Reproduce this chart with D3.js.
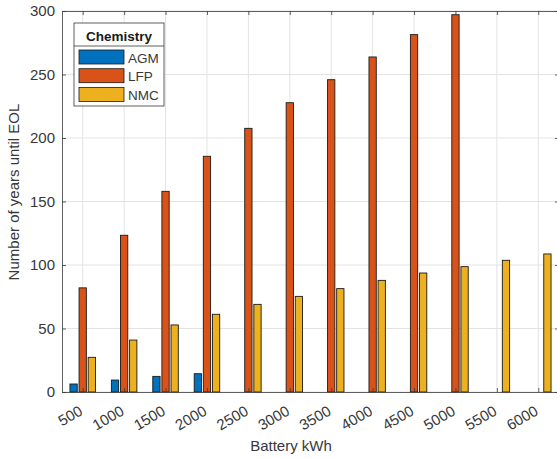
<!DOCTYPE html>
<html>
<head>
<meta charset="utf-8">
<script src="https://cdn.jsdelivr.net/npm/d3@7"></script>
<style>
  body { margin: 0; background: #fff; }
  svg text { font-family: "Liberation Sans", Arial, sans-serif; fill: #383838; }
</style>
</head>
<body>
<script>
// Data
const capacities = [500, 1000, 1500, 2000, 2500, 3000, 3500, 4000, 4500, 5000, 5500, 6000];
const chemistries = ["AGM", "LFP", "NMC"];
const agmYears = [6.3, 9.4, 12.3, 14.4, null, null, null, null, null, null, null, null];
const lfpYears = [82, 123.4, 158, 185.6, 207.6, 227.8, 245.9, 263.8, 281.4, 297.1, null, null];
const nmcYears = [27.3, 40.9, 52.8, 61.2, 69, 75.3, 81.4, 87.9, 93.7, 98.7, 103.7, 108.7];
const yTicks = [0, 50, 100, 150, 200, 250, 300];

const colors = {AGM: "#0072BD", LFP: "#D95319", NMC: "#EDB120"};
const seriesValues = {AGM: agmYears, LFP: lfpYears, NMC: nmcYears};

const w = 557, h = 459;
const margin = {left: 62, top: 11, right: 559, bottom: 392};

const svg = d3.select('body').append('svg')
  .attr('width', w)
  .attr('height', h);

// Scales
const xScale = d3.scaleLinear().domain([250, 6250]).range([margin.left, margin.right]);
const yScale = d3.scaleLinear().domain([0, 300]).range([margin.bottom, margin.top]);
const xInner = d3.scaleBand().domain(chemistries).range([-165, 165]).paddingInner(0.2).paddingOuter(0.1);

// Grid
const grid = svg.append('g');
grid.selectAll('.vg').data(capacities).enter().append('line')
  .attr('x1', d => xScale(d)).attr('x2', d => xScale(d))
  .attr('y1', margin.top).attr('y2', margin.bottom)
  .attr('stroke', '#e3e3e3');
grid.selectAll('.hg').data(yTicks).enter().append('line')
  .attr('x1', margin.left).attr('x2', margin.right)
  .attr('y1', d => yScale(d)).attr('y2', d => yScale(d))
  .attr('stroke', '#e3e3e3');

// Bars
const barData = [];
chemistries.forEach(c => {
  seriesValues[c].forEach((v, i) => {
    if (v != null) barData.push({chem: c, cap: capacities[i], val: v});
  });
});
const bw = xScale(xInner.bandwidth()) - xScale(0);
svg.append('g').selectAll('rect').data(barData).enter().append('rect')
  .attr('x', d => xScale(d.cap + xInner(d.chem)))
  .attr('y', d => yScale(d.val))
  .attr('width', bw)
  .attr('height', d => yScale(0) - yScale(d.val))
  .attr('fill', d => colors[d.chem])
  .attr('stroke', '#1a1a1a')
  .attr('stroke-width', 0.9);

// Axes (ticks pointing inward on all four sides)
const xAxis = d3.axisBottom(xScale).tickValues(capacities).tickSizeInner(-4).tickSizeOuter(0).tickFormat('');
const yAxis = d3.axisLeft(yScale).tickValues(yTicks).tickSizeInner(-4).tickSizeOuter(0).tickFormat('');
const xTop = d3.axisTop(xScale).tickValues(capacities).tickSizeInner(-4).tickSizeOuter(0).tickFormat('');
const yRight = d3.axisRight(yScale).tickValues(yTicks).tickSizeInner(-4).tickSizeOuter(0).tickFormat('');

const axisColor = '#383838';
[[xAxis, `translate(0,${margin.bottom})`], [yAxis, `translate(${margin.left},0)`],
 [xTop, `translate(0,${margin.top})`], [yRight, `translate(${margin.right},0)`]].forEach(([ax, tr]) => {
  const g = svg.append('g').attr('transform', tr).call(ax);
  g.selectAll('path,line').attr('stroke', axisColor).attr('stroke-width', 0.8);
});

// Tick labels
svg.append('g').selectAll('text').data(yTicks).enter().append('text')
  .attr('x', 55).attr('y', d => yScale(d) + 5)
  .attr('text-anchor', 'end')
  .style('font-size', '15px')
  .text(d => d);

svg.append('g').selectAll('text').data(capacities).enter().append('text')
  .attr('transform', d => `translate(${xScale(d) + 1},414) rotate(-30)`)
  .attr('text-anchor', 'end')
  .style('font-size', '15px')
  .text(d => d);

// Axis labels
svg.append('text')
  .attr('x', 291).attr('y', 451)
  .attr('text-anchor', 'middle')
  .style('font-size', '15px')
  .text('Battery kWh');

svg.append('text')
  .attr('transform', 'translate(19,192) rotate(-90)')
  .attr('text-anchor', 'middle')
  .style('font-size', '15px')
  .text('Number of years until EOL');

// Legend
const legend = svg.append('g').attr('transform', 'translate(74,23)');
legend.append('rect')
  .attr('width', 90).attr('height', 83)
  .attr('fill', '#fff').attr('stroke', axisColor).attr('stroke-width', 0.8);
legend.append('line')
  .attr('x1', 0).attr('x2', 90).attr('y1', 23).attr('y2', 23)
  .attr('stroke', axisColor).attr('stroke-width', 0.8);
legend.append('text')
  .attr('x', 45).attr('y', 18)
  .attr('text-anchor', 'middle')
  .style('font-size', '13.5px').style('font-weight', 'bold')
  .style('fill', '#1a1a1a')
  .text('Chemistry');
const items = legend.selectAll('.item').data(chemistries).enter().append('g')
  .attr('transform', (d, i) => `translate(5,${27 + i * 18.7})`);
items.append('rect')
  .attr('width', 45).attr('height', 14)
  .attr('fill', d => colors[d])
  .attr('stroke', '#1a1a1a').attr('stroke-width', 0.8);
items.append('text')
  .attr('x', 49).attr('y', 12.5)
  .style('font-size', '13.5px')
  .text(d => d);
</script>
</body>
</html>
